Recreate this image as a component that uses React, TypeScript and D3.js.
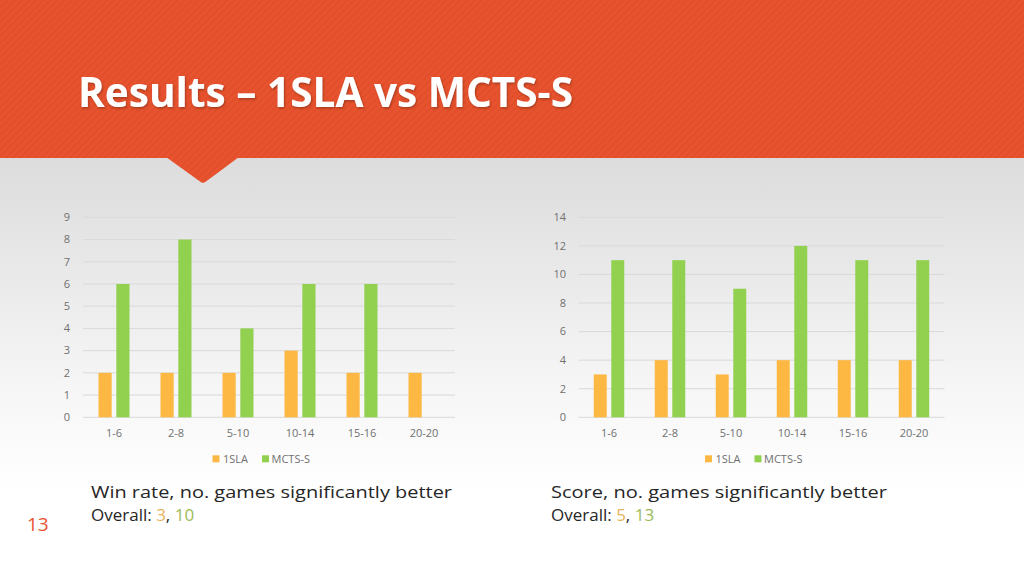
import React from "react";
import * as d3 from "d3";

const categories = ["1-6", "2-8", "5-10", "10-14", "15-16", "20-20"];
const seriesNames = ["1SLA", "MCTS-S"];
const winRate1SLA = [2, 2, 2, 3, 2, 2];
const winRateMCTS = [6, 8, 4, 6, 6, 0];
const score1SLA = [3, 4, 3, 4, 4, 4];
const scoreMCTS = [11, 11, 9, 12, 11, 11];
const winTicks = [0, 1, 2, 3, 4, 5, 6, 7, 8, 9];
const scoreTicks = [0, 2, 4, 6, 8, 10, 12, 14];

const ORANGE = "#FDB843";
const GREEN = "#92D050";
const AXIS_TEXT = "#707070";
const GRID = "#D9D9D9";
const FONT = "'Open Sans', 'DejaVu Sans', sans-serif";

type ChartProps = {
  a: number[];
  b: number[];
  ticks: number[];
  x0: number;
  x1: number;
  labelX: number;
  yTop: number;
  yBottom: number;
};

function BarChart({ a, b, ticks, x0, x1, labelX, yTop, yBottom }: ChartProps) {
  const max = ticks[ticks.length - 1];
  const y = d3.scaleLinear().domain([0, max]).range([yBottom, yTop]);
  const x = d3.scaleBand().domain(categories).range([x0, x1]).paddingInner(0).paddingOuter(0);
  const bw = x.bandwidth();
  const xs = d3.scaleBand().domain(seriesNames).range([bw * 0.25, bw * 0.75]).paddingInner(0.26);
  const data = [a, b];
  const colors = [ORANGE, GREEN];
  const legendCx = (x0 + x1) / 2;
  return (
    <g>
      {ticks.map((t) => (
        <g key={t}>
          <line x1={x0} x2={x1} y1={y(t)} y2={y(t)} stroke={GRID} strokeWidth={1} />
          <text x={labelX} y={y(t)} dy="0.35em" textAnchor="end" fontSize={11} fill={AXIS_TEXT} fontFamily={FONT}>
            {t}
          </text>
        </g>
      ))}
      {data.map((vals, si) =>
        vals.map((v, i) =>
          v > 0 ? (
            <rect
              key={si + "-" + i}
              x={(x(categories[i]) as number) + (xs(seriesNames[si]) as number)}
              y={y(v)}
              width={xs.bandwidth()}
              height={y(0) - y(v)}
              fill={colors[si]}
            />
          ) : null
        )
      )}
      {categories.map((c) => (
        <text key={c} x={(x(c) as number) + bw / 2} y={yBottom + 20} textAnchor="middle" fontSize={11} fill={AXIS_TEXT} fontFamily={FONT}>
          {c}
        </text>
      ))}
      <g>
        <rect x={legendCx - 56.5} y={yBottom + 38} width={7} height={7} fill={ORANGE} />
        <text x={legendCx - 46} y={yBottom + 45.5} fontSize={11} fill={AXIS_TEXT} fontFamily={FONT}>
          {seriesNames[0]}
        </text>
        <rect x={legendCx - 7} y={yBottom + 38} width={7} height={7} fill={GREEN} />
        <text x={legendCx + 2.5} y={yBottom + 45.5} fontSize={11} fill={AXIS_TEXT} fontFamily={FONT}>
          {seriesNames[1]}
        </text>
      </g>
    </g>
  );
}

export default function App() {
  return (
    <svg width={1024} height={576} style={{ position: "absolute", left: 0, top: 0 }}>
      <defs>
        <linearGradient id="bg" x1="0" y1="0" x2="0" y2="1">
          <stop offset="0" stopColor="#DCDCDC" />
          <stop offset="0.55" stopColor="#F6F6F6" />
          <stop offset="0.8" stopColor="#FFFFFF" />
          <stop offset="1" stopColor="#FFFFFF" />
        </linearGradient>
        <pattern id="stripes" width="5" height="5" patternUnits="userSpaceOnUse" patternTransform="rotate(45)">
          <rect width="5" height="5" fill="#E8532F" />
          <rect width="1.6" height="5" fill="#E04D2A" />
        </pattern>
        <filter id="shadow" x="-5%" y="-20%" width="110%" height="140%">
          <feDropShadow dx="1" dy="1.5" stdDeviation="1" floodColor="#7a2a10" floodOpacity="0.6" />
        </filter>
      </defs>
      <rect x={0} y={157} width={1024} height={419} fill="url(#bg)" />
      <rect x={0} y={0} width={1024} height={158} fill="url(#stripes)" />
      <path d="M166,157 L239,157 L206,181.5 Q203,184 200,181.5 Z" fill="url(#stripes)" />
      <text
        x={78}
        y={107}
        fontSize={42}
        fontWeight="bold"
        fill="#FFFFFF"
        fontFamily={FONT}
        textLength={495}
        lengthAdjust="spacingAndGlyphs"
        filter="url(#shadow)"
      >
        Results – 1SLA vs MCTS-S
      </text>

      <BarChart a={winRate1SLA} b={winRateMCTS} ticks={winTicks} x0={83} x1={455} labelX={70} yTop={217.3} yBottom={417.3} />
      <BarChart a={score1SLA} b={scoreMCTS} ticks={scoreTicks} x0={578.5} x1={944.5} labelX={566} yTop={217.3} yBottom={417.3} />

      <text x={91} y={498} fontSize={17} fill="#262626" fontFamily={FONT} textLength={361} lengthAdjust="spacingAndGlyphs">
        Win rate, no. games significantly better
      </text>
      <text x={91} y={521} fontSize={17} fill="#262626" fontFamily={FONT}>
        Overall: <tspan fill="#E6B25C">3</tspan>, <tspan fill="#9BBB59">10</tspan>
      </text>
      <text x={551} y={498} fontSize={17} fill="#262626" fontFamily={FONT} textLength={336} lengthAdjust="spacingAndGlyphs">
        Score, no. games significantly better
      </text>
      <text x={551} y={521} fontSize={17} fill="#262626" fontFamily={FONT}>
        Overall: <tspan fill="#E6B25C">5</tspan>, <tspan fill="#9BBB59">13</tspan>
      </text>
      <text x={27} y={531} fontSize={19} fill="#E8532F" fontFamily={FONT}>
        13
      </text>
    </svg>
  );
}
